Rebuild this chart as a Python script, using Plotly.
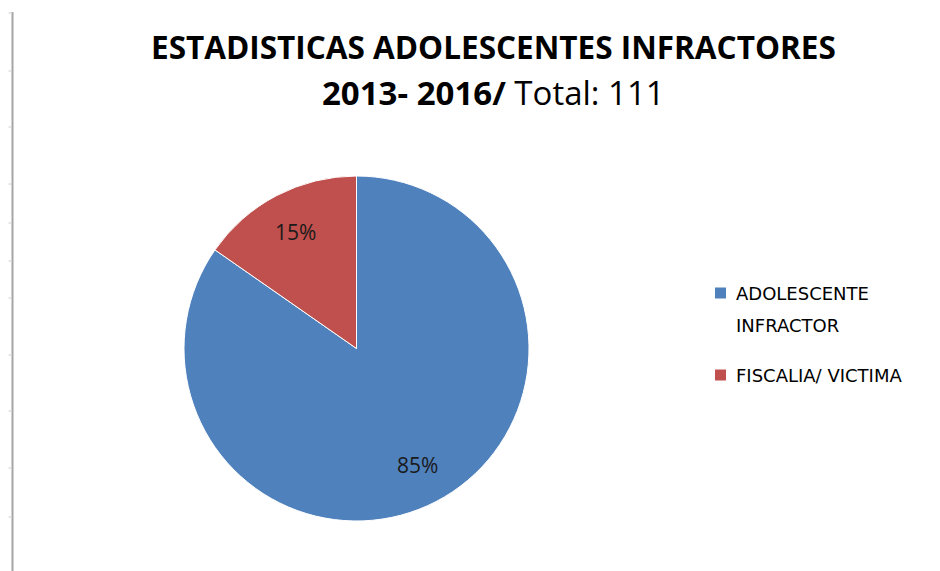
import math
import plotly.graph_objects as go

categories = ["ADOLESCENTE<br>INFRACTOR", "FISCALIA/ VICTIMA"]
values = [94, 17]
colors = ["#4F81BD", "#C0504D"]
total = sum(values)

W, H = 940, 571
OFF = 8  # page body margin in the browser
cx, cy, r = 356.5 - OFF, 348.5 - OFF, 172.5  # pixel geometry of pie


def PX(x):
    return (x - OFF) / W if x > OFF else x / W


def PY(y):
    return 1 - (y - OFF) / H


fig = go.Figure()
fig.add_trace(go.Pie(
    labels=categories, values=values, sort=False, direction="clockwise", rotation=0,
    marker=dict(colors=colors, line=dict(color="white", width=1)),
    textinfo="none", hoverinfo="label+percent", showlegend=False,
    domain=dict(x=[(cx - r) / W, (cx + r) / W], y=[1 - (cy + r) / H, 1 - (cy - r) / H]),
))

ann = []
start = 0.0
for v in values:
    frac = v / total
    mid = (start + frac / 2) * 2 * math.pi
    start += frac
    px = cx + 0.76 * r * math.sin(mid)
    py = cy - 0.76 * r * math.cos(mid)
    ann.append(dict(x=px / W, y=1 - py / H, xref="paper", yref="paper", showarrow=False,
                    xanchor="center", yanchor="middle",
                    text=f"{round(frac * 100)}%", font=dict(family="Open Sans", size=21, color="#1a1a1a")))

ann.append(dict(x=PX(493), y=PY(47), xref="paper", yref="paper", showarrow=False,
                xanchor="center", yanchor="middle",
                text="<b>ESTADISTICAS ADOLESCENTES INFRACTORES</b>",
                font=dict(family="Open Sans", size=31.5, color="#000")))
ann.append(dict(x=PX(493), y=PY(92), xref="paper", yref="paper", showarrow=False,
                xanchor="center", yanchor="middle",
                text=f"<b>2013- 2016/</b> Total: {total}",
                font=dict(family="Open Sans", size=33, color="#000")))

# legend (manual, to match line spacing)
legend_rows = [[293, 325], [375]]
shapes = []
for cat, col, rows in zip(categories, colors, legend_rows):
    y0 = rows[0]
    shapes.append(dict(type="rect", xref="paper", yref="paper", x0=PX(715), x1=PX(726),
                       y0=PY(y0 - 5.5), y1=PY(y0 + 5.5), fillcolor=col, line=dict(width=0)))
    for line, yy in zip(cat.split("<br>"), rows):
        ann.append(dict(x=PX(734), y=PY(yy), xref="paper", yref="paper", showarrow=False,
                        xanchor="left", yanchor="middle", text=line,
                        font=dict(family="DejaVu Sans", size=18, color="#000")))

shapes.append(dict(type="line", xref="paper", yref="paper", x0=PX(12.5), x1=PX(12.5), y0=0, y1=PY(12),
                   line=dict(color="#a6a6a6", width=2)))
for ty in [13, 71, 127, 184, 223, 261, 298, 355, 411, 468, 517]:
    shapes.append(dict(type="line", xref="paper", yref="paper", x0=PX(8.5), x1=PX(12),
                       y0=PY(ty), y1=PY(ty), line=dict(color="#d0d0d0", width=1)))

fig.update_layout(
    width=W, height=H, margin=dict(l=0, r=0, t=0, b=0),
    paper_bgcolor="white", plot_bgcolor="white",
    annotations=ann, shapes=shapes, showlegend=False,
)
fig.write_html("out.html")
